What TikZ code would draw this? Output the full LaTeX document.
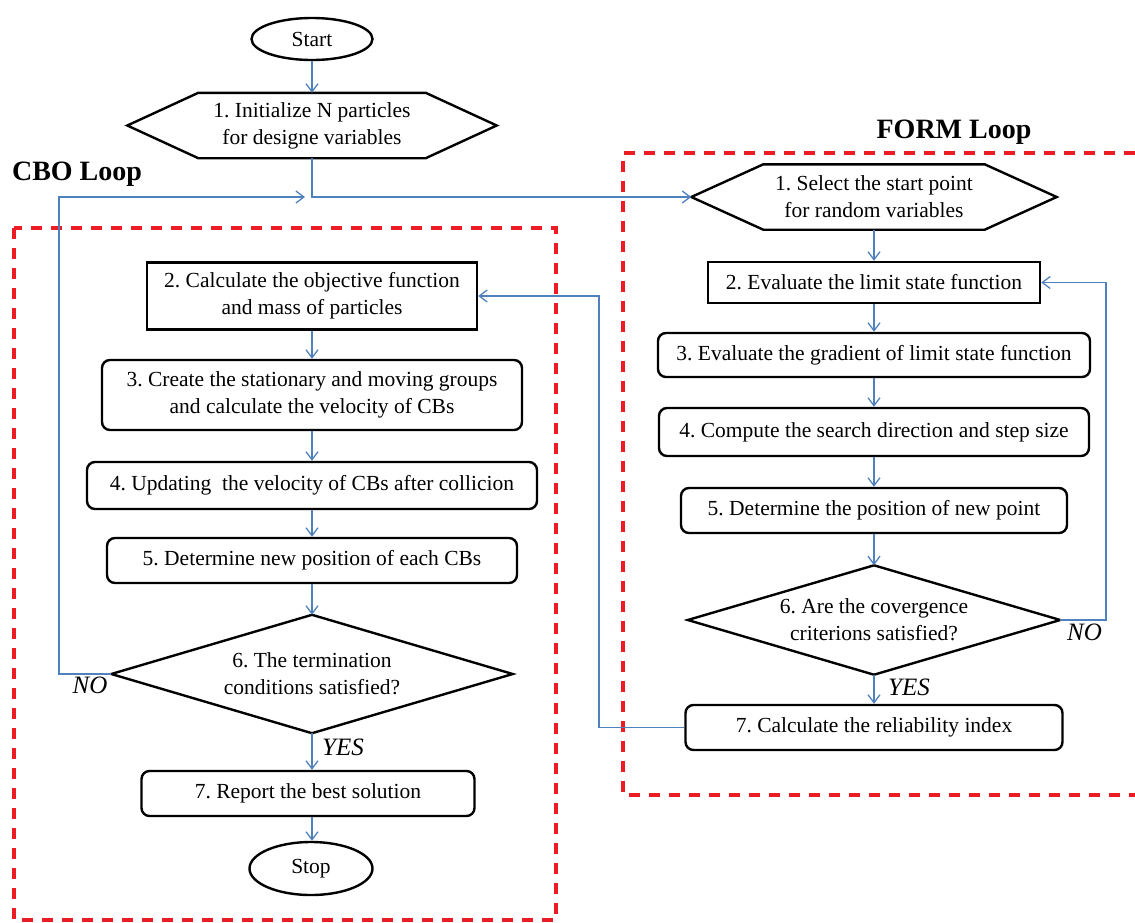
\documentclass[tikz,border=0pt]{standalone}
\usepackage{fontspec}
\setmainfont{Liberation Serif}
\frenchspacing
\usetikzlibrary{arrows.meta,shapes.geometric,calc}
\definecolor{cblue}{RGB}{79,129,189}
\definecolor{dred}{RGB}{235,28,36}
\begin{document}
\begin{tikzpicture}[x=1pt,y=-1pt,
  txt/.style={font=\fontsize{21.5}{27}\selectfont, align=center, inner sep=0pt},
  sqbox/.style={txt, draw, line width=2.4pt},
  rbox/.style={txt, draw, line width=2.4pt, rounded corners=8pt},
  shapebox/.style={txt},
  term/.style={txt, draw, ellipse, line width=2.4pt},
  blk/.style={line width=2.4pt, line join=miter},
  conn/.style={draw=cblue, line width=1.5pt, -{Straight Barb[length=8pt,width=12pt,line width=1.3pt]}},
  loopbox/.style={draw=dred, line width=3.4pt, dash pattern=on 11pt off 9pt},
  title/.style={font=\bfseries\fontsize{28}{34}\selectfont, inner sep=0pt, anchor=base},
  lbl/.style={font=\itshape\fontsize{25}{30}\selectfont, inner sep=0pt, anchor=base}
]
\useasboundingbox (0,0) rectangle (1135,922);

% loop frames
\draw[loopbox] (14,228) rectangle (556,920);
\draw[loopbox] (1135,153) -- (623,153) -- (623,795) -- (1135,795);
\node[title] (cbo) at (77,180) {CBO Loop};
\node[title] (form) at (954,138) {FORM Loop};

% main column
\node[term, minimum width=121, minimum height=42] (start) at (312,39) {Start};
\node[shapebox, minimum width=369, minimum height=65] (i1) at (312,125.5) {1. Initialize N particles\\for designe variables};
\draw[blk] (i1.west) -- ([xshift=71pt]i1.north west) -- ([xshift=-71pt]i1.north east) -- (i1.east) -- ([xshift=-71pt]i1.south east) -- ([xshift=71pt]i1.south west) -- cycle;

% CBO loop
\node[sqbox, minimum width=330, minimum height=67] (c2) at (312,296) {2. Calculate the objective function\\and mass of particles};
\node[rbox, minimum width=420, minimum height=70] (c3) at (312,395) {3. Create the stationary and moving groups\\and calculate the velocity of CBs};
\node[rbox, minimum width=450, minimum height=47] (c4) at (312,485.5) {4. Updating\ \ the velocity of CBs after collicion};
\node[rbox, minimum width=410, minimum height=45] (c5) at (312,560.5) {5. Determine new position of each CBs};
\node[shapebox, minimum width=401, minimum height=118] (c6) at (312,674) {6. The termination\\conditions satisfied?};
\draw[blk] (c6.west) -- (c6.north) -- (c6.east) -- (c6.south) -- cycle;
\node[rbox, minimum width=333, minimum height=45] (c7) at (308,793.5) {7. Report the best solution};
\node[term, minimum width=123, minimum height=53] (stop) at (311,868.5) {Stop};

% FORM loop
\node[shapebox, minimum width=365, minimum height=65] (f1) at (874,197) {1. Select the start point\\for random variables};
\draw[blk] (f1.west) -- ([xshift=72pt]f1.north west) -- ([xshift=-72pt]f1.north east) -- (f1.east) -- ([xshift=-72pt]f1.south east) -- ([xshift=72pt]f1.south west) -- cycle;
\node[sqbox, minimum width=332, minimum height=41] (f2) at (874,282.5) {2. Evaluate the limit state function};
\node[rbox, minimum width=432, minimum height=44] (f3) at (874,355) {3. Evaluate the gradient of limit state function};
\node[rbox, minimum width=430, minimum height=48] (f4) at (874,432) {4. Compute the search direction and step size};
\node[rbox, minimum width=386, minimum height=45] (f5) at (874,510.5) {5. Determine the position of new point};
\node[shapebox, minimum width=372, minimum height=109] (f6) at (874,620) {6. Are the covergence\\criterions satisfied?};
\draw[blk] (f6.west) -- (f6.north) -- (f6.east) -- (f6.south) -- cycle;
\node[rbox, minimum width=377, minimum height=45] (f7) at (874,727.5) {7. Calculate the reliability index};

% labels
\node[lbl] (cno) at (90,693) {NO};
\node[lbl] (cyes) at (343,755) {YES};
\node[lbl] (fno) at (1084.5,640) {NO};
\node[lbl] (fyes) at (909,695) {YES};

% helper coordinates
\coordinate (jin) at (305,197);
\coordinate (cnoc) at (59,197);
\coordinate (fnoc) at (1106,282.5);
\coordinate (fback) at (599,296);

% connectors: main
\draw[conn] (start.south) -- (i1.north);
\draw[conn] (i1.south) |- (f1.west);
\draw[conn] (c6.west) -| (cnoc) -- (jin);
\draw[conn] (c2.south) -- (c3.north);
\draw[conn] (c3.south) -- (c4.north);
\draw[conn] (c4.south) -- (c5.north);
\draw[conn] (c5.south) -- (c6.north);
\draw[conn] (c6.south) -- (c6.south |- c7.north);
\draw[conn] (c6.south |- c7.south) -- (c6.south |- stop.north);

% connectors: FORM
\draw[conn] (f1.south) -- (f2.north);
\draw[conn] (f2.south) -- (f3.north);
\draw[conn] (f3.south) -- (f4.north);
\draw[conn] (f4.south) -- (f5.north);
\draw[conn] (f5.south) -- (f6.north);
\draw[conn] (f6.south) -- (f7.north);
\draw[conn] (f6.east) -| (fnoc) -- (f2.east);
\draw[conn] (f7.west) -| (fback) -- (c2.east);
\end{tikzpicture}
\end{document}
